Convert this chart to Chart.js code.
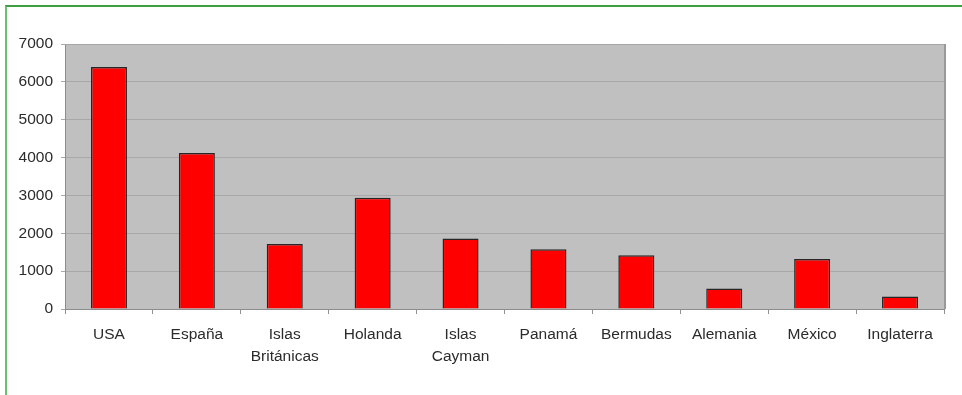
<!DOCTYPE html>
<html>
<head>
<meta charset="utf-8">
<script src="https://cdn.jsdelivr.net/npm/chart.js@4.4.1/dist/chart.umd.min.js"></script>
<style>
  html, body { margin: 0; padding: 0; background: #fff; }
  #wrap { position: relative; width: 962px; height: 395px; overflow: hidden; }
  #frame { position: absolute; left: 5px; top: 5px; right: -10px; bottom: -10px;
           border-top: 2px solid #3f9f3f; border-left: 2px solid #6cc06c; pointer-events: none; }
  canvas { position: absolute; left: 0; top: 0; }
</style>
</head>
<body>
<div id="wrap">
  <canvas id="c" width="962" height="395"></canvas>
  <div id="frame"></div>
</div>
<script>
const categories = [["USA"], ["España"], ["Islas", "Británicas"], ["Holanda"], ["Islas", "Cayman"],
                    ["Panamá"], ["Bermudas"], ["Alemania"], ["México"], ["Inglaterra"]];
const values = [6390, 4120, 1720, 2940, 1860, 1580, 1420, 540, 1320, 330];
const yTicks = [0, 1000, 2000, 3000, 4000, 5000, 6000, 7000];

const plotBg = {
  id: 'plotBg',
  beforeDraw(chart) {
    const { ctx, chartArea: a } = chart;
    ctx.save();
    ctx.fillStyle = '#c0c0c0';
    ctx.fillRect(a.left, a.top, a.right - a.left, a.bottom - a.top);
    ctx.restore();
  },
  afterDatasetsDraw(chart) {
    const { ctx, chartArea: a } = chart;
    ctx.save();
    ctx.strokeStyle = '#a6a6a6';
    ctx.lineWidth = 1;
    ctx.beginPath();
    ctx.moveTo(a.left, a.top + 0.5);
    ctx.lineTo(a.right, a.top + 0.5);
    ctx.stroke();
    ctx.strokeStyle = '#999999';
    ctx.lineWidth = 2;
    ctx.beginPath();
    ctx.moveTo(a.right + 1, a.top);
    ctx.lineTo(a.right + 1, a.bottom);
    ctx.stroke();
    ctx.restore();
  }
};

new Chart(document.getElementById('c'), {
  type: 'bar',
  data: {
    labels: categories,
    datasets: [{
      data: values,
      backgroundColor: '#ff0000',
      borderColor: '#262626',
      borderWidth: 1.5,
      barPercentage: 0.41,
      categoryPercentage: 1.0
    }]
  },
  options: {
    responsive: false,
    animation: false,
    devicePixelRatio: 1,
    layout: { padding: { top: 44, right: 18, left: 0, bottom: 0 } },
    plugins: { legend: { display: false }, tooltip: { enabled: false } },
    scales: {
      x: {
        grid: { display: true, drawOnChartArea: false, drawTicks: true, tickLength: 5, color: '#909090', offset: true },
        border: { display: true, color: '#8c8c8c', width: 1 },
        ticks: { color: '#2b2b2b', font: { family: 'Liberation Sans, Arial, sans-serif', size: 15.5, lineHeight: 1.4 }, padding: 10, maxRotation: 0, autoSkip: false },
        afterFit(s) { s.height = 86; }
      },
      y: {
        min: 0, max: 7000,
        afterBuildTicks(s) { s.ticks = yTicks.map(v => ({ value: v })); },
        grid: { color: '#a8a8a8', lineWidth: 1, drawTicks: true, tickLength: 4 },
        border: { display: true, color: '#8c8c8c', width: 1 },
        ticks: { color: '#2b2b2b', font: { family: 'Liberation Sans, Arial, sans-serif', size: 15.5 }, padding: 8,
                 callback: v => String(v) },
        afterFit(s) { s.width = 65; }
      }
    }
  },
  plugins: [plotBg]
});
</script>
</body>
</html>
